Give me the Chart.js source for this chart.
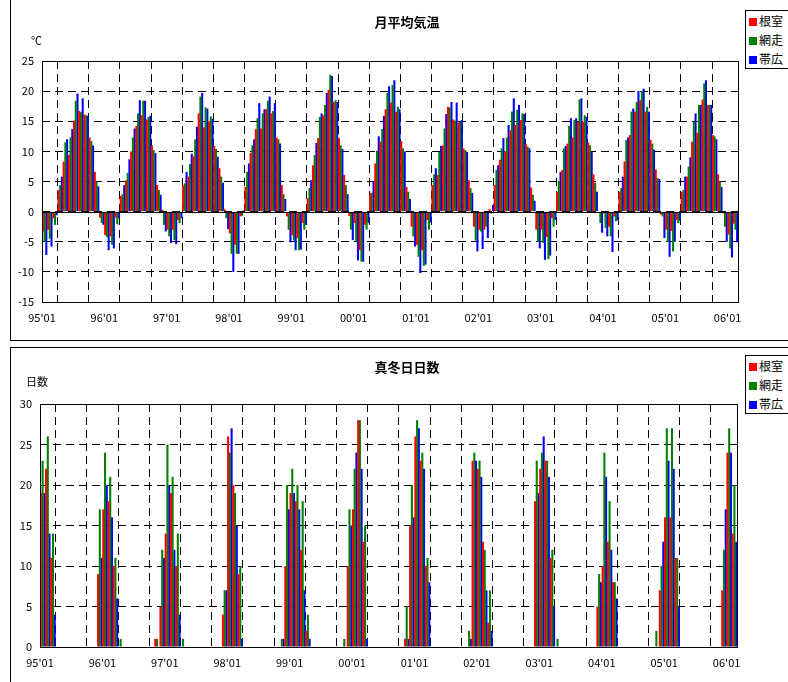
<!DOCTYPE html>
<html>
<head>
<meta charset="utf-8">
<script src="https://cdn.jsdelivr.net/npm/chart.js@4.4.0/dist/chart.umd.min.js"></script>
<style>
html, body { margin: 0; padding: 0; background: #fff; overflow: hidden; width: 788px; height: 682px; }
body { position: relative; font-family: "Noto Sans CJK JP", sans-serif; color: #000; }
.frame { position: absolute; border: 1px solid #000; box-sizing: border-box; }
canvas { position: absolute; left: 0; }
.title { position: absolute; font-size: 13px; font-weight: bold; transform: translateX(-50%); white-space: nowrap; }
.unit { position: absolute; font-size: 11px; white-space: nowrap; }
.legend { position: absolute; left: 745px; width: 60px; border: 1px solid #000; background: #fff; font-size: 12px; line-height: 19px; padding: 0 0 0 3px; }
.legend div { white-space: nowrap; }
.legend span { display: inline-block; width: 8px; height: 8px; margin-right: 2px; vertical-align: 0; }
</style>
</head>
<body>
<div class="frame" style="left:10px;top:-2px;width:800px;height:343px;"></div>
<div class="frame" style="left:10px;top:347px;width:800px;height:340px;"></div>

<canvas id="tempChart" width="788" height="340" style="top:0"></canvas>
<canvas id="daysChart" width="788" height="337" style="top:345px"></canvas>

<div class="title" style="left:407px;top:12px;">月平均気温</div>
<div class="unit" style="left:31px;top:32px;">℃</div>
<div class="title" style="left:407px;top:357px;">真冬日日数</div>
<div class="unit" style="left:26px;top:373px;">日数</div>

<div class="legend" id="legendTop" style="top:10px;"></div>
<div class="legend" id="legendBottom" style="top:355px;"></div>

<script>
// stations and colours
const stations = ['根室', '網走', '帯広'];
const colors = ['#ff0000', '#008000', '#0000ff'];

// years on the x axis (Jan 1995 .. Feb 2006)
const years = ['95', '96', '97', '98', '99', '00', '01', '02', '03', '04', '05', '06'];
const monthCount = 134;

// monthly mean temperature (℃), one row per year
const tempNemuro = [
  -3.3, -3.0, -1.1, 3.6, 8.3, 9.4, 15.1, 16.7, 16.1, 12.3, 6.6, -1.0,
  -3.9, -4.1, -1.0, 2.6, 5.2, 10.0, 14.2, 16.0, 15.3, 11.0, 4.4, 0.3,
  -3.0, -3.0, -1.4, 4.4, 5.8, 9.2, 16.3, 14.0, 15.0, 10.9, 7.2, 0.4,
  -3.6, -5.5, -0.8, 4.1, 9.7, 13.7, 13.8, 17.0, 16.3, 12.3, 4.4, -0.8,
  -3.9, -4.4, -1.9, 2.2, 7.7, 12.2, 16.0, 20.2, 18.2, 12.2, 6.1, -0.7,
  -1.9, -6.4, -2.2, 3.1, 8.0, 11.6, 17.0, 18.1, 16.6, 11.7, 4.1, -2.5,
  -5.5, -6.4, -1.4, 4.4, 6.1, 11.0, 17.4, 15.3, 14.8, 10.5, 5.2, -2.5,
  -3.0, -3.0, 0.4, 4.4, 8.6, 10.0, 13.5, 14.4, 15.2, 11.2, 4.0, -3.0,
  -3.0, -4.2, -1.1, 3.3, 6.9, 11.3, 12.3, 14.9, 14.9, 11.5, 6.2, 0.0,
  -0.3, -2.5, -0.8, 3.3, 8.3, 12.7, 16.6, 18.5, 16.6, 11.9, 7.0, -0.5,
  -3.0, -3.2, -1.4, 3.3, 5.8, 11.6, 13.1, 18.6, 17.7, 12.7, 6.2, -0.3,
  -3.8, -2.0
];
const tempAbashiri = [
  -5.0, -4.5, -2.2, 4.4, 11.5, 12.3, 18.4, 16.5, 16.0, 11.7, 5.0, -1.9,
  -4.2, -5.5, -2.1, 2.9, 6.4, 12.3, 16.3, 18.4, 15.7, 10.2, 3.6, -2.2,
  -4.1, -4.7, -1.9, 4.7, 7.9, 12.0, 19.1, 17.3, 15.8, 10.4, 5.8, -1.1,
  -7.0, -7.0, -0.7, 6.6, 11.0, 15.5, 16.3, 18.4, 16.7, 12.0, 2.9, -3.0,
  -4.8, -6.4, -3.0, 3.9, 9.4, 15.7, 17.7, 22.7, 18.5, 11.0, 4.4, -3.0,
  -5.0, -8.3, -3.0, 3.1, 10.1, 13.7, 19.7, 21.0, 17.4, 10.5, 3.3, -4.1,
  -7.5, -9.0, -3.0, 6.2, 9.9, 13.8, 17.3, 15.1, 15.0, 10.2, 3.9, -4.8,
  -3.3, -2.5, -0.3, 6.9, 10.5, 12.3, 16.6, 16.9, 16.3, 10.8, 2.8, -5.0,
  -5.2, -7.9, -2.5, 5.1, 10.5, 14.2, 15.2, 18.6, 16.0, 11.0, 4.8, -1.9,
  -2.7, -4.1, -1.6, 3.9, 11.9, 16.6, 18.2, 20.0, 17.4, 11.3, 5.6, -0.8,
  -5.0, -6.6, -1.9, 3.6, 7.5, 14.9, 17.7, 21.3, 17.7, 12.5, 5.0, -2.5,
  -6.1, -3.0
];
const tempObihiro = [
  -7.2, -5.8, -0.6, 5.8, 12.0, 13.7, 19.6, 18.8, 15.9, 11.0, 4.2, -2.2,
  -6.4, -6.1, -1.1, 4.4, 8.7, 13.8, 18.5, 18.4, 15.9, 9.7, 2.8, -3.3,
  -5.2, -5.4, -1.1, 6.6, 9.6, 14.1, 19.7, 17.1, 15.4, 9.1, 4.8, -2.9,
  -10.0, -7.0, 0.2, 8.0, 12.0, 18.0, 17.0, 19.1, 18.0, 11.3, 2.1, -5.1,
  -6.4, -6.3, -2.2, 5.2, 11.4, 16.3, 19.7, 22.5, 18.2, 10.4, 2.9, -4.7,
  -8.1, -8.3, -1.9, 5.0, 12.5, 15.9, 20.8, 21.8, 17.0, 10.0, 2.1, -5.8,
  -10.2, -8.8, -1.8, 7.2, 10.9, 16.2, 18.2, 18.1, 15.2, 9.9, 3.1, -6.6,
  -6.2, -4.4, 1.1, 7.7, 12.2, 14.4, 18.8, 17.7, 16.2, 10.5, 1.8, -6.1,
  -8.0, -7.3, -1.4, 6.6, 10.9, 15.5, 15.5, 18.8, 15.7, 9.9, 3.3, -3.5,
  -4.1, -6.7, -1.4, 5.8, 12.3, 17.1, 20.0, 20.4, 16.6, 10.3, 5.4, -4.4,
  -7.5, -5.0, -1.5, 5.8, 9.0, 16.3, 17.7, 21.8, 17.7, 12.0, 4.1, -5.0,
  -7.6, -5.1
];

// days with max temperature below 0 (真冬日), one row per year
const daysNemuro = [
  19, 22, 11, 0, 0, 0, 0, 0, 0, 0, 0, 9,
  17, 18, 10, 0, 0, 0, 0, 0, 0, 0, 1, 5,
  14, 19, 10, 0, 0, 0, 0, 0, 0, 0, 0, 4,
  26, 20, 9, 0, 0, 0, 0, 0, 0, 0, 0, 10,
  19, 18, 12, 2, 0, 0, 0, 0, 0, 0, 0, 10,
  17, 28, 13, 0, 0, 0, 0, 0, 0, 0, 1, 15,
  26, 23, 10, 0, 0, 0, 0, 0, 0, 0, 0, 23,
  22, 13, 3, 0, 0, 0, 0, 0, 0, 0, 0, 18,
  22, 23, 11, 0, 0, 0, 0, 0, 0, 0, 0, 5,
  10, 13, 8, 0, 0, 0, 0, 0, 0, 0, 0, 7,
  16, 16, 11, 0, 0, 0, 0, 0, 0, 0, 0, 7,
  24, 14
];
const daysAbashiri = [
  23, 26, 14, 0, 0, 0, 0, 0, 0, 0, 0, 17,
  24, 21, 11, 1, 0, 0, 0, 0, 0, 0, 1, 12,
  25, 21, 14, 1, 0, 0, 0, 0, 0, 0, 0, 7,
  24, 19, 10, 0, 0, 0, 0, 0, 0, 0, 1, 20,
  22, 20, 18, 4, 0, 0, 0, 0, 0, 0, 1, 17,
  22, 28, 15, 0, 0, 0, 0, 0, 0, 0, 5, 20,
  28, 24, 11, 0, 0, 0, 0, 0, 0, 0, 2, 24,
  23, 12, 7, 0, 0, 0, 0, 0, 0, 0, 0, 23,
  24, 23, 12, 1, 0, 0, 0, 0, 0, 0, 0, 9,
  24, 18, 8, 0, 0, 0, 0, 0, 0, 0, 2, 10,
  27, 27, 11, 0, 0, 0, 0, 0, 0, 0, 0, 12,
  27, 20
];
const daysObihiro = [
  19, 14, 4, 0, 0, 0, 0, 0, 0, 0, 0, 11,
  20, 16, 6, 0, 0, 0, 0, 0, 0, 0, 0, 11,
  20, 12, 4, 0, 0, 0, 0, 0, 0, 0, 0, 7,
  27, 15, 1, 0, 0, 0, 0, 0, 0, 0, 1, 17,
  19, 17, 7, 1, 0, 0, 0, 0, 0, 0, 0, 15,
  24, 22, 1, 0, 0, 0, 0, 0, 0, 0, 1, 16,
  27, 22, 8, 0, 0, 0, 0, 0, 0, 0, 1, 23,
  21, 7, 2, 0, 0, 0, 0, 0, 0, 0, 0, 19,
  26, 21, 5, 0, 0, 0, 0, 0, 0, 0, 0, 8,
  21, 12, 6, 0, 0, 0, 0, 0, 0, 0, 0, 13,
  23, 22, 5, 0, 0, 0, 0, 0, 0, 0, 0, 17,
  24, 13
];

// month categories like 95'01
const months = [];
for (let i = 0; i < monthCount; i++) {
  const m = (i % 12) + 1;
  months.push(years[Math.floor(i / 12)] + "'" + (m < 10 ? '0' + m : m));
}

const tickFont = { family: '"Noto Sans CJK JP", sans-serif', size: 11 };

// box round the plot area, plus solid zero line
const framePlugin = {
  id: 'frame',
  afterDatasetsDraw(chart, args, opts) {
    const { ctx, chartArea: a, scales } = chart;
    ctx.save();
    ctx.strokeStyle = '#000';
    ctx.lineWidth = 1;
    if (opts.zero) {
      const y0 = Math.round(scales.y.getPixelForValue(0)) + 0.5;
      ctx.beginPath();
      ctx.moveTo(a.left, y0);
      ctx.lineTo(a.right, y0);
      ctx.stroke();
    }
    ctx.strokeRect(Math.round(a.left) + 0.5, Math.round(a.top) + 0.5,
      Math.round(a.right - a.left), Math.round(a.bottom - a.top));
    ctx.restore();
  }
};

function makeChart(id, series, yMin, yMax, pad, yWidth, zero) {
  return new Chart(document.getElementById(id), {
    type: 'bar',
    data: {
      labels: months,
      datasets: stations.map((s, i) => ({
        label: s,
        data: series[i],
        backgroundColor: colors[i],
        borderWidth: 0,
        xAxisID: 'x',
        yAxisID: 'y',
        categoryPercentage: 1.0,
        barPercentage: 1.2
      }))
    },
    options: {
      responsive: false,
      animation: false,
      layout: { padding: pad },
      plugins: {
        legend: { display: false },
        tooltip: { enabled: false },
        frame: { zero: zero }
      },
      scales: {
        x: { type: 'category', display: false, offset: true },
        xt: {
          type: 'linear',
          position: 'bottom',
          min: 0,
          max: monthCount,
          offset: false,
          afterBuildTicks: s => {
            const t = [];
            for (let v = 0; v <= monthCount; v += 6) t.push({ value: v });
            s.ticks = t;
          },
          afterFit: s => { s.height = 26; },
          ticks: {
            autoSkip: false,
            maxRotation: 0,
            padding: 9,
            color: '#000',
            font: tickFont,
            callback: v => (v % 12 === 0 && years[v / 12]) ? years[v / 12] + "'01" : ''
          },
          grid: { color: '#000', drawTicks: false },
          border: { display: false, dash: [8, 5] }
        },
        y: {
          min: yMin,
          max: yMax,
          afterFit: s => { s.width = yWidth; },
          ticks: { stepSize: 5, padding: 8, color: '#000', font: tickFont },
          grid: { color: '#000', drawTicks: false },
          border: { display: false, dash: [8, 5] }
        }
      }
    },
    plugins: [framePlugin]
  });
}

makeChart('tempChart', [tempNemuro, tempAbashiri, tempObihiro], -15, 25,
  { top: 61, right: 50, bottom: 12, left: 0 }, 42, true);
makeChart('daysChart', [daysNemuro, daysAbashiri, daysObihiro], 0, 30,
  { top: 59, right: 51, bottom: 9, left: 0 }, 40, false);

// legends
['legendTop', 'legendBottom'].forEach(id => {
  document.getElementById(id).innerHTML = stations
    .map((s, i) => '<div><span style="background:' + colors[i] + '"></span>' + s + '</div>')
    .join('');
});
</script>
</body>
</html>
